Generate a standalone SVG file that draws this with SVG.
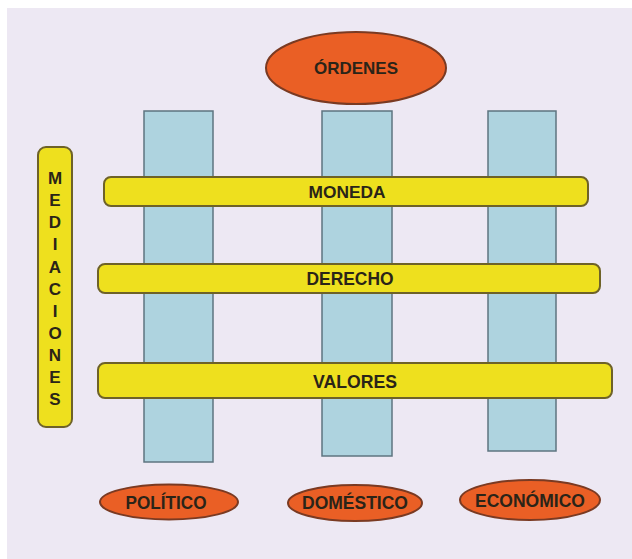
<svg xmlns="http://www.w3.org/2000/svg" width="632" height="559" viewBox="0 0 632 559">
<style>
.col{fill:#AED3DF;stroke:#5E7480;stroke-width:1.5}
.bar{fill:#EEE01E;stroke:#6E6228;stroke-width:2}
.ell{fill:#EA5F25;stroke:#7A3A22;stroke-width:2}
.t{font-family:"Liberation Sans",Arial,sans-serif;font-weight:bold;fill:#2A2418;text-anchor:middle}
</style>
<rect x="0" y="0" width="632" height="559" fill="#FFFFFF"/>
<rect x="7" y="8" width="625" height="551" fill="#EDE8F3"/>
<g id="columns">
<g id="col-politico"><rect class="col" x="144" y="111" width="69" height="351"/></g>
<g id="col-domestico"><rect class="col" x="322" y="111" width="70" height="345"/></g>
<g id="col-economico"><rect class="col" x="488" y="111" width="68" height="340"/></g>
</g>
<g id="ordenes"><ellipse class="ell" cx="356" cy="68" rx="90" ry="36"/><text class="t" x="356" y="74" font-size="17" textLength="84" lengthAdjust="spacingAndGlyphs">ÓRDENES</text></g>
<g id="moneda"><rect class="bar" x="104" y="177" width="484" height="29" rx="7"/><text class="t" x="347" y="198" font-size="17" textLength="77" lengthAdjust="spacingAndGlyphs">MONEDA</text></g>
<g id="derecho"><rect class="bar" x="98" y="264" width="502" height="29" rx="7"/><text class="t" x="350" y="285" font-size="18" textLength="87" lengthAdjust="spacingAndGlyphs">DERECHO</text></g>
<g id="valores"><rect class="bar" x="98" y="363" width="514" height="35" rx="7"/><text class="t" x="355" y="388" font-size="19" textLength="84" lengthAdjust="spacingAndGlyphs">VALORES</text></g>
<g id="mediaciones"><rect class="bar" x="38" y="147" width="34" height="280" rx="8"/>
<text class="t" font-size="17">
<tspan x="55" y="184">M</tspan><tspan x="55" y="206">E</tspan><tspan x="55" y="228">D</tspan><tspan x="55" y="250">I</tspan><tspan x="55" y="273">A</tspan><tspan x="55" y="295">C</tspan><tspan x="55" y="317">I</tspan><tspan x="55" y="339">O</tspan><tspan x="55" y="361">N</tspan><tspan x="55" y="383">E</tspan><tspan x="55" y="405">S</tspan>
</text></g>
<g id="politico"><ellipse class="ell" cx="169" cy="502" rx="69" ry="17.5"/><text class="t" x="166" y="509" font-size="18" textLength="81" lengthAdjust="spacingAndGlyphs">POLÍTICO</text></g>
<g id="domestico"><ellipse class="ell" cx="355" cy="503" rx="67" ry="18"/><text class="t" x="355" y="509" font-size="18" textLength="106" lengthAdjust="spacingAndGlyphs">DOMÉSTICO</text></g>
<g id="economico"><ellipse class="ell" cx="530" cy="500" rx="70" ry="20"/><text class="t" x="530" y="507" font-size="18" textLength="110" lengthAdjust="spacingAndGlyphs">ECONÓMICO</text></g>
<g id="connectors"/>
</svg>
